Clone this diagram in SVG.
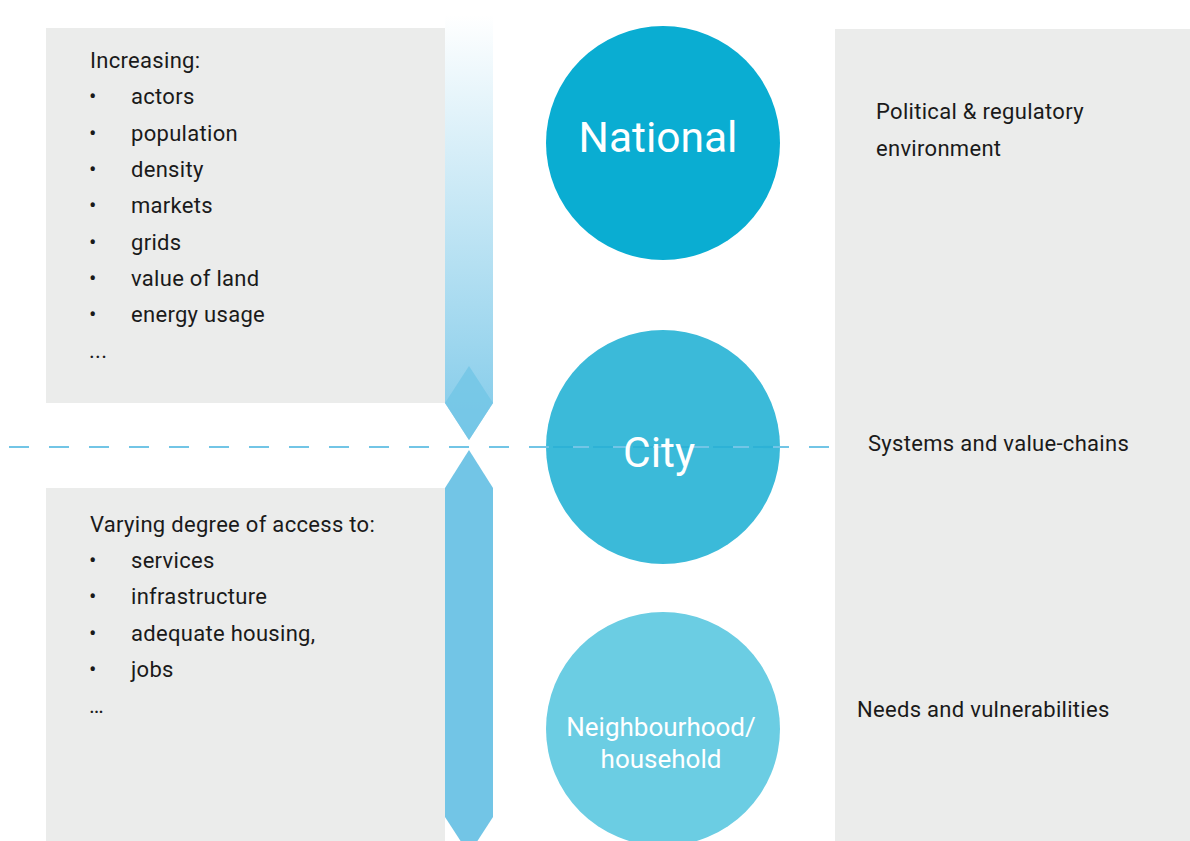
<svg xmlns="http://www.w3.org/2000/svg" width="1190" height="841" viewBox="0 0 1190 841">
<style>
.box{fill:#ebeceb}
.t{font-family:Roboto,"Liberation Sans",sans-serif;font-size:22px;letter-spacing:0.3px;fill:#1a1a1a}
.w{font-family:Roboto,"Liberation Sans",sans-serif;fill:#ffffff;text-anchor:middle}
.dash{stroke:#72c5e6;stroke-width:2.2;stroke-dasharray:20 20;fill:none}
</style>
<defs>
<linearGradient id="up" x1="0" y1="15" x2="0" y2="440" gradientUnits="userSpaceOnUse">
<stop offset="0" stop-color="#ffffff"/>
<stop offset="1" stop-color="#80cae9"/>
</linearGradient>
</defs>
<rect width="1190" height="841" fill="#ffffff"/>
<g id="left-top">
<rect class="box" x="46" y="28" width="399" height="375"/>
<text class="t" x="90" y="68">Increasing:</text>
<g class="t">
<text x="89" y="104">•</text><text x="131" y="104">actors</text>
<text x="89" y="141">•</text><text x="131" y="141">population</text>
<text x="89" y="177">•</text><text x="131" y="177">density</text>
<text x="89" y="213">•</text><text x="131" y="213">markets</text>
<text x="89" y="250">•</text><text x="131" y="250">grids</text>
<text x="89" y="286">•</text><text x="131" y="286">value of land</text>
<text x="89" y="322">•</text><text x="131" y="322">energy usage</text>
<text x="89" y="358">...</text>
</g>
</g>
<g id="left-bottom">
<rect class="box" x="46" y="488" width="399" height="353"/>
<text class="t" x="90" y="532">Varying degree of access to:</text>
<g class="t">
<text x="89" y="568">•</text><text x="131" y="568">services</text>
<text x="89" y="604">•</text><text x="131" y="604">infrastructure</text>
<text x="89" y="641">•</text><text x="131" y="641">adequate housing,</text>
<text x="89" y="677">•</text><text x="131" y="677">jobs</text>
<text x="89" y="713">…</text>
</g>
</g>
<g id="right">
<rect class="box" x="835" y="29" width="355" height="812"/>
<text class="t" x="876" y="119">Political &amp; regulatory</text>
<text class="t" x="876" y="156">environment</text>
<text class="t" x="868" y="451">Systems and value-chains</text>
<text class="t" x="857" y="717">Needs and vulnerabilities</text>
</g>
<g id="arrow-up">
<path d="M445 15 H493 V403 L469 440 L445 403 Z" fill="url(#up)"/>
<path d="M469 366 L493 403 L469 440 L445 403 Z" fill="#72c5e6" opacity="0.8"/>
</g>
<g id="arrow-down">
<path d="M469 450 L493 488 V817 L469 854 L445 817 V488 Z" fill="#72c5e6"/>
</g>
<g id="national">
<circle cx="663" cy="143" r="117" fill="#0aadd2"/>
<text class="w" x="658" y="152" font-size="42.5">National</text>
</g>
<g id="city">
<circle cx="663" cy="447" r="117" fill="#3bbad9"/>
</g>
<g id="connectors">
<line class="dash" x1="9" y1="447" x2="835" y2="447"/>
<line x1="546" y1="447" x2="781" y2="447" stroke="#2db2d6" stroke-width="2.2" stroke-dasharray="20 20" stroke-dashoffset="-7"/>
</g>
<g id="city-label">
<text class="w" x="659" y="467" font-size="42.5">City</text>
</g>
<g id="neighbourhood">
<circle cx="663" cy="729" r="117" fill="#6bcde3"/>
<text class="w" x="661" y="736" font-size="26">Neighbourhood/</text>
<text class="w" x="661" y="768" font-size="26">household</text>
</g>
</svg>
